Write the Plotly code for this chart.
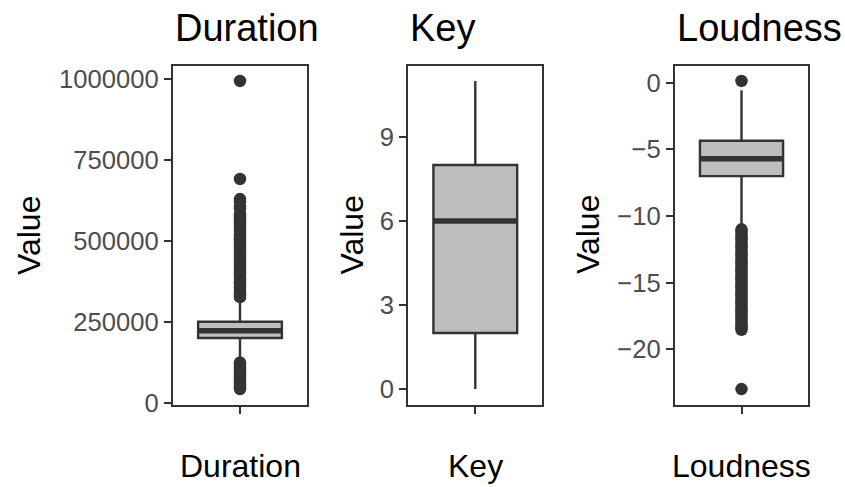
import plotly.graph_objects as go

W, H = 845, 487
H_EFF = 475.0  # vertical scale observed in the rendered page

panels = ["Duration", "Key", "Loudness"]

# box statistics
q1 = [200000, 2, -7.0]
median = [222000, 6, -5.7]
q3 = [250000, 8, -4.35]
lower_whisker = [127000, 0, -10.95]
upper_whisker = [322000, 11, -0.55]

duration_outliers = [994000, 691000, 629000, 622000, 606000, 600000, 582000, 576000,
                     568000, 561000, 552000, 544000, 537000, 528000, 520000, 513000,
                     505000, 497000, 489000, 481000, 474000, 465000, 457000, 450000,
                     442000, 434000, 426000, 418000, 411000, 403000, 395000, 387000,
                     380000, 372000, 364000, 356000, 349000, 341000, 333000, 326000,
                     124000, 117000, 109000, 101000, 94000, 86000, 78000, 70000,
                     63000, 55000, 48000, 42000]
key_outliers = []
loudness_outliers = [0.15, -11.0, -11.2, -11.4, -11.6, -11.8, -12.0, -12.2, -12.4,
                     -12.6, -12.8, -13.0, -13.2, -13.4, -13.6, -13.8, -14.0, -14.2,
                     -14.4, -14.6, -14.8, -15.0, -15.2, -15.4, -15.6, -15.8, -16.0,
                     -16.2, -16.4, -16.6, -16.8, -17.0, -17.2, -17.4, -17.6, -17.8,
                     -18.0, -18.2, -18.4, -18.55, -23.0]
outliers = [duration_outliers, key_outliers, loudness_outliers]

tick_vals = [[0, 250000, 500000, 750000, 1000000], [0, 3, 6, 9], [-20, -15, -10, -5, 0]]
tick_text = [["0", "250000", "500000", "750000", "1000000"], ["0", "3", "6", "9"],
             ["\u221220", "\u221215", "\u221210", "\u22125", "0"]]

y_label = "Value"

# layout geometry (pixels)
panel_x = [(173, 307), (408.3, 542.3), (675, 808)]
panel_top, panel_bottom = 65.5, 404.5
value_label_x = [29, 351.5, 588]


def fy(px):
    return 1 - px / H_EFF


DARK = "#333333"
FONT = "Liberation Sans, Arial, Helvetica, sans-serif"

fig = go.Figure()
layout = dict(
    width=W, height=H, autosize=False,
    margin=dict(l=0, r=0, t=0, b=0),
    paper_bgcolor="white", plot_bgcolor="white",
    showlegend=False,
    font=dict(family=FONT),
    annotations=[],
)

for i, name in enumerate(panels):
    n = "" if i == 0 else str(i + 1)
    xa, ya = "x" + n, "y" + n
    fig.add_trace(go.Box(
        x=[0], q1=[q1[i]], median=[median[i]], q3=[q3[i]],
        lowerfence=[lower_whisker[i]], upperfence=[upper_whisker[i]],
        width=0.75, whiskerwidth=0, boxpoints=False,
        fillcolor="#BEBEBE", line=dict(color=DARK, width=2.4),
        xaxis=xa, yaxis=ya, hoverinfo="skip",
    ))
    fig.add_trace(go.Scatter(
        x=[-0.375, 0.375], y=[median[i], median[i]], mode="lines",
        line=dict(color=DARK, width=5.5), xaxis=xa, yaxis=ya, hoverinfo="skip",
    ))
    if outliers[i]:
        fig.add_trace(go.Scatter(
            x=[0] * len(outliers[i]), y=outliers[i], mode="markers",
            marker=dict(color=DARK, size=12.5, line=dict(width=0)),
            xaxis=xa, yaxis=ya, hoverinfo="skip",
        ))
    allv = [lower_whisker[i], upper_whisker[i]] + outliers[i]
    lo, hi = min(allv), max(allv)
    pad = 0.05 * (hi - lo)
    x0, x1 = panel_x[i]
    layout["xaxis" + n] = dict(
        domain=[x0 / W, x1 / W], range=[-0.6, 0.6], anchor=ya,
        tickvals=[0], ticktext=[""], ticks="outside", ticklen=7, tickwidth=2.3,
        tickcolor=DARK, showline=True, linecolor=DARK, linewidth=2.3, mirror=True,
        showgrid=False, zeroline=False, fixedrange=True,
    )
    layout["yaxis" + n] = dict(
        domain=[fy(panel_bottom), fy(panel_top)], range=[lo - pad, hi + pad],
        anchor=xa, tickvals=tick_vals[i], ticktext=tick_text[i],
        ticks="outside", ticklen=7, tickwidth=2.3, tickcolor=DARK,
        tickfont=dict(size=25.6, color="#4D4D4D", family=FONT),
        showline=True, linecolor=DARK, linewidth=2.3, mirror=True,
        showgrid=False, zeroline=False, fixedrange=True,
    )
    # panel title (left aligned)
    layout["annotations"].append(dict(
        text=name, xref="paper", yref="paper", x=x0 / W, y=fy(28),
        xanchor="left", yanchor="middle", showarrow=False,
        font=dict(size=38, color="black", family=FONT),
    ))
    # y axis title
    layout["annotations"].append(dict(
        text=y_label, xref="paper", yref="paper", x=value_label_x[i] / W,
        y=fy((panel_top + panel_bottom) / 2), textangle=-90,
        xanchor="center", yanchor="middle", showarrow=False,
        font=dict(size=32, color="black", family=FONT),
    ))
    # x axis title
    layout["annotations"].append(dict(
        text=name, xref="paper", yref="paper", x=(x0 + x1) / 2 / W, y=fy(465.7),
        xanchor="center", yanchor="middle", showarrow=False,
        font=dict(size=32, color="black", family=FONT),
    ))

fig.update_layout(**layout)
fig.write_html("out.html",
               config={"responsive": False, "displayModeBar": False},
               post_script="document.body.style.margin='0';document.body.style.overflow='hidden';")
